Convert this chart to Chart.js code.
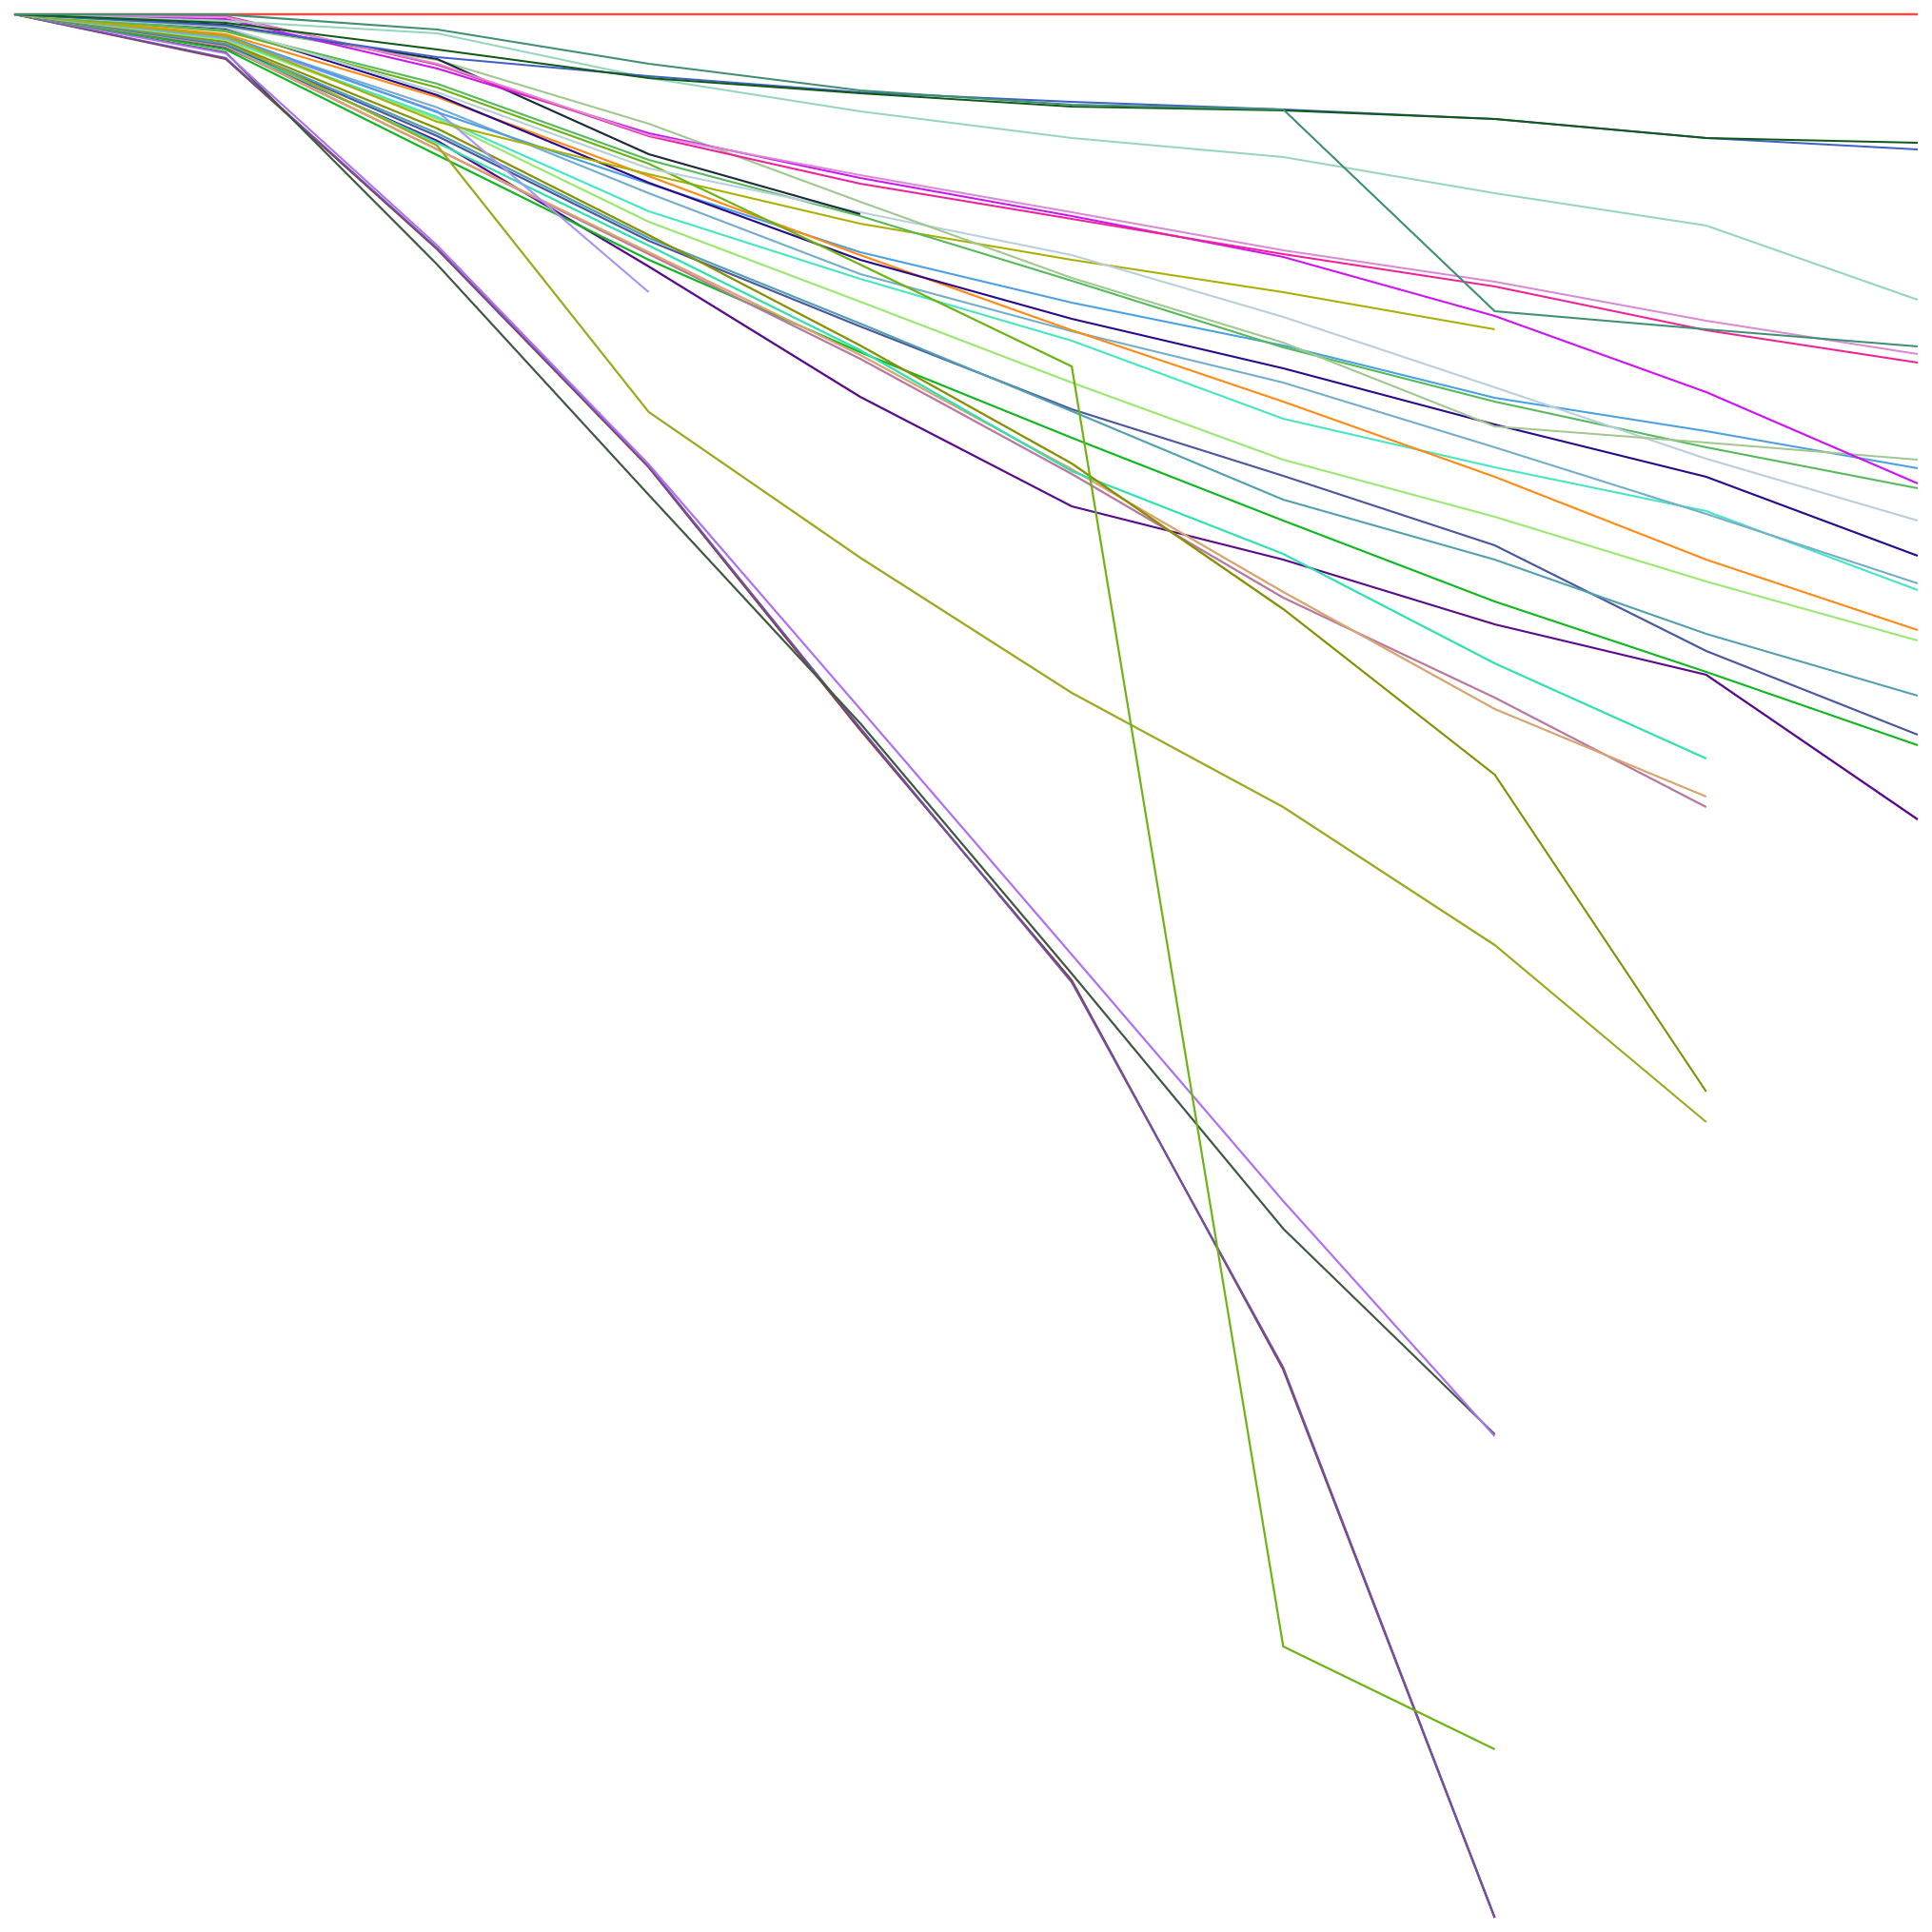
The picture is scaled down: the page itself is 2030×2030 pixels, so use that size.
<!DOCTYPE html>
<html>
<head>
<meta charset="utf-8">
<script src="https://cdn.jsdelivr.net/npm/chart.js@4"></script>
<style>
    html, body { margin: 0; padding: 0; background: #fff; }
    #wrap { width: 2030px; height: 2030px; }
</style>
</head>
<body>
<div id="wrap"><canvas id="chart"></canvas></div>
<script>
// Steps along the x axis
const steps = ['1', '2', '3', '4', '5', '6', '7', '8', '9', '10'];

// Series values (change from start)
const seaGreen      = [0, -0.02, -0.8, -2.6, -4.0, -4.75, -5.0, -15.6, -16.55, -17.45];
const darkGreen     = [0, -0.45, -1.85, -3.35, -4.15, -4.85, -5.05, -5.5, -6.5, -6.75];
const royalBlue     = [0, -0.6, -2.25, -3.25, -4.1, -4.6, -5.0, -5.5, -6.5, -7.1];
const mint          = [0, -0.35, -1.0, -3.35, -5.1, -6.5, -7.5, -9.4, -11.1, -15.0];
const orchid        = [0, -0.15, -2.6, -6.35, -8.45, -10.4, -12.4, -14.05, -16.1, -17.85];
const deepPink      = [0, -0.1, -2.65, -6.4, -8.9, -10.75, -12.6, -14.3, -16.6, -18.3];
const magenta       = [0, -0.25, -2.85, -6.25, -8.6, -10.6, -12.75, -15.85, -19.85, -24.65];
const nearBlack     = [0, -0.55, -2.35, -7.35, -10.5];
const sage          = [0, -0.65, -2.4, -5.75, -9.85, -13.85, -17.25, -21.65, -22.5, -23.4];
const paleSteel     = [0, -0.7, -4.1, -8.1, -10.4, -12.65, -15.9, -19.6, -23.35, -26.6];
const midGreen      = [0, -0.85, -3.65, -7.65, -10.6, -14.0, -17.5, -20.35, -22.75, -24.9];
const chartreuse    = [0, -0.9, -3.85, -7.85, -13.15, -18.5, -85.75, -91.15];
const mustard       = [0, -1.15, -5.65, -8.4, -11.0, -12.9, -14.6, -16.55];
const navy          = [0, -0.75, -4.25, -8.85, -12.9, -16.0, -18.6, -21.55, -24.3, -28.45];
const orange        = [0, -1.05, -4.35, -8.5, -12.65, -16.6, -20.35, -24.3, -28.65, -32.35];
const dodger        = [0, -1.1, -5.15, -8.9, -12.5, -15.15, -17.4, -20.15, -21.9, -23.85];
const steel         = [0, -1.2, -4.9, -9.4, -13.65, -16.65, -19.35, -22.75, -26.25, -29.9];
const periwinkle    = [0, -1.25, -5.1, -14.6];
const turquoise     = [0, -1.3, -5.4, -10.35, -13.9, -17.15, -21.25, -23.8, -26.1, -30.25];
const lightGreen    = [0, -1.35, -5.5, -10.9, -15.1, -19.35, -23.4, -26.4, -29.8, -32.9];
const olive         = [0, -1.45, -6.0, -11.6, -17.4, -23.6, -31.25, -39.95, -56.6];
const yellowGreen   = [0, -1.4, -6.9, -20.9, -28.55, -35.65, -41.65, -48.9, -58.2];
const cadet         = [0, -1.55, -6.25, -11.75, -16.25, -20.85, -25.5, -28.65, -32.55, -35.8];
const slateBlue     = [0, -1.6, -6.4, -11.9, -16.4, -20.75, -24.25, -27.9, -33.45, -37.85];
const aqua          = [0, -1.6, -6.75, -12.15, -17.65, -24.0, -28.35, -34.1, -39.1];
const tan           = [0, -1.65, -7.1, -12.5, -17.9, -23.9, -30.35, -36.5, -41.1];
const mauve         = [0, -1.7, -7.1, -12.6, -18.1, -24.15, -30.65, -35.9, -41.65];
const brightGreen   = [0, -1.85, -7.4, -12.9, -17.75, -22.25, -26.6, -30.85, -34.55, -38.4];
const indigo        = [0, -1.75, -6.65, -13.25, -20.1, -25.85, -28.65, -32.05, -34.7, -42.3];
const lavender      = [0, -2.05, -12.15, -23.65, -36.5, -49.4, -62.35, -74.7];
const grayGreen     = [0, -2.0, -13.15, -25.25, -37.25, -50.4, -63.8, -74.6];
const purple        = [0, -2.3, -12.3, -23.75, -37.5, -50.85, -71.1, -100];
const brown         = [0, -2.35, -12.35, -23.8, -37.6, -50.75, -71.2, -100];
const flat          = [0, 0, 0, 0, 0, 0, 0, 0, 0, 0];

// Series in drawing order (first = on top) with their colours
const series = [
    [seaGreen, '#3f9070'], [darkGreen, '#115a16'], [royalBlue, '#4160c8'],
    [mint, '#96d6bc'], [orchid, '#da8ad6'], [deepPink, '#f0229a'],
    [magenta, '#cc16f2'], [nearBlack, '#1c2a3c'], [sage, '#a0c890'],
    [paleSteel, '#b8d0dc'], [midGreen, '#55bb5a'], [chartreuse, '#6cb414'],
    [mustard, '#aab000'], [navy, '#2a0a8c'], [orange, '#ff8a14'],
    [dodger, '#4aa0e2'], [steel, '#74aecc'], [periwinkle, '#aa92f8'],
    [turquoise, '#48e6c0'], [lightGreen, '#9ae872'], [olive, '#888f00'],
    [yellowGreen, '#a0a820'], [cadet, '#52a0b0'], [slateBlue, '#4a58a0'],
    [aqua, '#30e0b0'], [tan, '#d8a470'], [mauve, '#b878a0'],
    [brightGreen, '#10b820'], [indigo, '#5a0a8c'], [lavender, '#b070f0'],
    [grayGreen, '#3e5a40'], [purple, '#7050a8'], [brown, '#8a3a26'],
    [flat, '#f04e3e']
];

function buildChart() {
    const ctx = document.getElementById('chart').getContext('2d');
    new Chart(ctx, {
        type: 'line',
        data: {
            labels: steps,
            datasets: series.map(([values, color]) => ({
                data: values,
                borderColor: color,
                borderWidth: values === flat ? 2.6 : 2.2,
                pointRadius: 0,
                tension: 0,
                fill: false,
                clip: false
            }))
        },
        options: {
            responsive: true,
            maintainAspectRatio: false,
            animation: false,
            layout: { padding: 15 },
            plugins: { legend: { display: false }, tooltip: { enabled: false } },
            scales: {
                x: { display: false },
                y: { display: false, min: -100, max: 0 }
            }
        }
    });
}

document.addEventListener('DOMContentLoaded', buildChart);
</script>
</body>
</html>
